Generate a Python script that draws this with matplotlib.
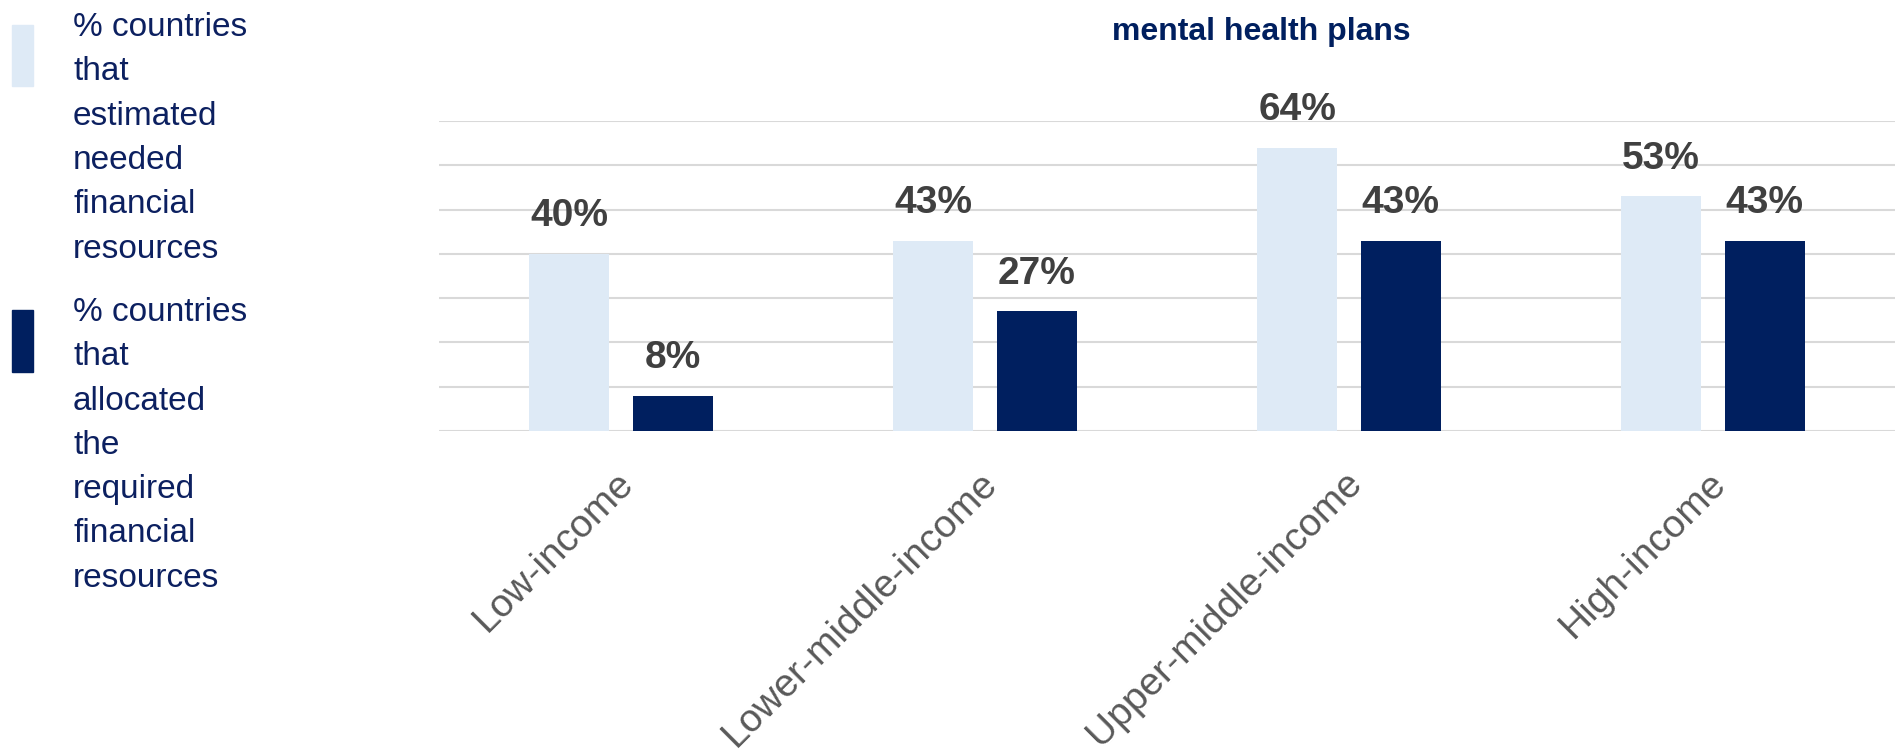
import numpy as np
import matplotlib.pyplot as plt
from matplotlib.patches import Rectangle
from matplotlib.transforms import ScaledTranslation

categories = ['Low-income', 'Lower-middle-income', 'Upper-middle-income', 'High-income']
estimated = [40, 43, 64, 53]
allocated = [8, 27, 43, 43]
series_lines = [
    ['% countries', 'that', 'estimated', 'needed', 'financial', 'resources'],
    ['% countries', 'that', 'allocated', 'the', 'required', 'financial', 'resources'],
]
title = 'mental health plans'

light = '#deeaf6'
navy = '#001f5f'
label_grey = '#404040'
tick_grey = '#595959'
W, H = 1902, 752

fig = plt.figure(figsize=(W / 100, H / 100), dpi=100)
ax = fig.add_axes([439 / W, 1 - 431 / H, (1895 - 439) / W, (431 - 121) / H])

x = np.arange(len(categories))
width = 0.22
offset = 0.1425
bars_est = ax.bar(x - offset, estimated, width, color=light, zorder=2)
bars_all = ax.bar(x + offset, allocated, width, color=navy, zorder=2)

for bars, vals in ((bars_est, estimated), (bars_all, allocated)):
    for b, v in zip(bars, vals):
        ax.annotate(f'{v}%', (b.get_x() + b.get_width() / 2, v),
                    xytext=(0, 14), textcoords='offset points',
                    ha='center', va='bottom', fontsize=28, fontweight='bold',
                    color=label_grey, family='Liberation Sans')

ax.set_xlim(-0.5, len(categories) - 0.5)
ax.set_ylim(0, 70)
ax.set_yticks(np.arange(0, 71, 10))
ax.yaxis.grid(True, color='#d9d9d9', lw=1.5)
ax.set_axisbelow(True)
for s in ax.spines.values():
    s.set_visible(False)
ax.tick_params(left=False, labelleft=False, bottom=False, axis='both')
ax.set_xticks(x)
ax.set_xticklabels(categories, rotation=45, ha='right', va='center',
                   rotation_mode='anchor', fontsize=28, color=tick_grey,
                   family='Liberation Sans')
ax.tick_params(axis='x', pad=30)
shift = ScaledTranslation(0.07, 0, fig.dpi_scale_trans)
for lbl in ax.get_xticklabels():
    lbl.set_transform(lbl.get_transform() + shift)

# title (first line sits above the canvas)
fig.text(0.663, 1 - 40 / H, title, ha='center', va='baseline', fontsize=23,
         fontweight='bold', color=navy, family='Liberation Sans')

# legend drawn by hand on the left
swatches = [(light, 25, 86), (navy, 310, 372)]
first_baselines = [36, 321]
pitch = 44.3
for (col, top, bot), lines, base in zip(swatches, series_lines, first_baselines):
    fig.patches.append(Rectangle((12 / W, 1 - bot / H), 21 / W, (bot - top) / H,
                                 transform=fig.transFigure, color=col))
    for i, line in enumerate(lines):
        fig.text(73 / W, 1 - (base + i * pitch) / H, line, ha='left',
                 va='baseline', fontsize=24, color='#0c2060',
                 family='Liberation Sans')

fig.savefig('out.png', dpi=100)
